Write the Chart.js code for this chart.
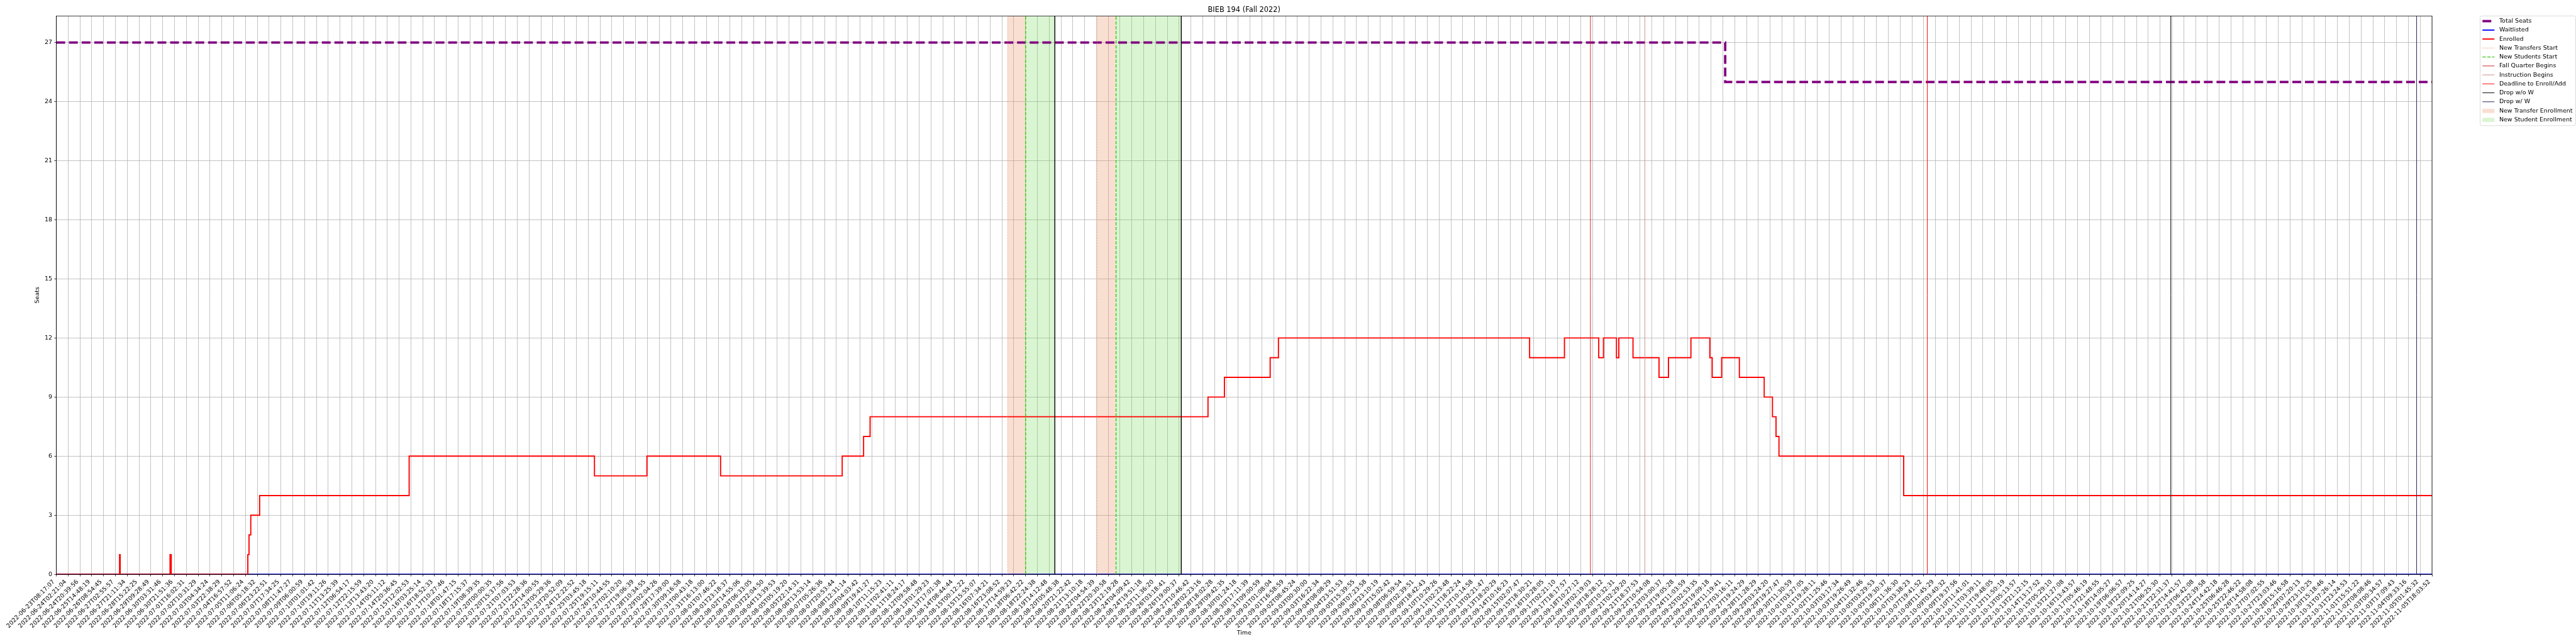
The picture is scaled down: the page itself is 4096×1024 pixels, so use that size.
<!DOCTYPE html>
<html><head><meta charset="utf-8">
<script src="https://cdn.jsdelivr.net/npm/chart.js"></script>
<style>html,body{margin:0;padding:0;background:#fff;overflow:hidden}canvas{display:block}</style>
</head><body>
<canvas id="c" width="4096" height="1024"></canvas>
<script>
// ---------- DATA ----------
const titleText = 'BIEB 194 (Fall 2022)';
const xTitle = 'Time';
const yTitle = 'Seats';
const tickLabels = [
'2022-06-23T08:17:07','2022-06-24T02:21:04','2022-06-24T20:39:56','2022-06-25T14:48:19','2022-06-26T08:54:45',
'2022-06-27T02:55:57','2022-06-27T21:11:34','2022-06-28T15:22:25','2022-06-29T09:28:49','2022-06-30T03:31:46',
'2022-06-30T21:51:36','2022-07-01T16:02:31','2022-07-02T10:31:29','2022-07-03T04:34:24','2022-07-03T22:38:29',
'2022-07-04T16:57:52','2022-07-05T11:06:24','2022-07-06T05:18:32','2022-07-06T23:22:51','2022-07-07T17:34:25',
'2022-07-08T11:47:27','2022-07-09T06:00:59','2022-07-10T01:01:42','2022-07-10T19:11:26','2022-07-11T13:25:39',
'2022-07-12T06:54:17','2022-07-12T22:15:59','2022-07-13T13:43:20','2022-07-14T05:11:12','2022-07-14T20:36:45',
'2022-07-15T12:02:53','2022-07-16T03:25:14','2022-07-16T18:52:33','2022-07-17T10:27:46','2022-07-18T01:47:15',
'2022-07-18T17:15:37','2022-07-19T08:39:35','2022-07-20T00:00:35','2022-07-20T15:37:56','2022-07-21T07:03:53',
'2022-07-21T22:28:36','2022-07-22T14:00:55','2022-07-23T05:29:36','2022-07-23T20:52:09','2022-07-24T12:22:52',
'2022-07-25T03:45:18','2022-07-25T19:15:11','2022-07-26T10:44:55','2022-07-27T02:10:20','2022-07-27T19:06:39',
'2022-07-28T10:34:55','2022-07-29T02:04:26','2022-07-29T17:39:00','2022-07-30T09:16:58','2022-07-31T00:43:18',
'2022-07-31T16:13:00','2022-08-01T07:46:22','2022-08-01T23:18:37','2022-08-02T14:55:06','2022-08-03T06:33:05',
'2022-08-03T22:04:50','2022-08-04T13:39:53','2022-08-05T05:19:20','2022-08-05T22:14:31','2022-08-06T13:53:14',
'2022-08-07T05:26:36','2022-08-07T20:53:44','2022-08-08T12:31:14','2022-08-09T04:03:42','2022-08-09T19:41:27',
'2022-08-10T11:15:23','2022-08-11T02:41:11','2022-08-11T18:24:17','2022-08-12T09:58:48','2022-08-13T01:29:23',
'2022-08-13T17:01:38','2022-08-14T08:44:44','2022-08-15T00:12:22','2022-08-15T15:55:07','2022-08-16T07:34:21',
'2022-08-16T23:08:52','2022-08-17T14:59:23','2022-08-18T06:42:22','2022-08-18T22:24:38','2022-08-19T14:12:48',
'2022-08-20T05:48:38','2022-08-20T21:22:42','2022-08-21T13:10:18','2022-08-22T04:54:39','2022-08-22T20:30:58',
'2022-08-23T12:19:28','2022-08-24T04:09:42','2022-08-24T19:51:18','2022-08-25T11:36:20','2022-08-26T03:18:41',
'2022-08-26T19:00:37','2022-08-27T10:46:42','2022-08-28T02:23:16','2022-08-28T18:02:28','2022-08-29T09:42:35',
'2022-08-30T01:24:18','2022-08-30T17:11:39','2022-08-31T09:00:59','2022-09-01T01:08:04','2022-09-01T16:58:59',
'2022-09-02T08:45:24','2022-09-03T00:30:00','2022-09-03T16:22:34','2022-09-04T08:08:29','2022-09-04T23:51:53',
'2022-09-05T15:39:55','2022-09-06T07:23:58','2022-09-06T23:10:19','2022-09-07T15:02:42','2022-09-08T06:59:54',
'2022-09-09T02:39:51','2022-09-09T18:42:43','2022-09-10T10:29:26','2022-09-11T02:23:48','2022-09-11T18:22:24',
'2022-09-12T10:14:58','2022-09-13T02:21:47','2022-09-13T18:20:29','2022-09-14T10:16:23','2022-09-15T02:07:47',
'2022-09-15T18:30:21','2022-09-16T10:28:05','2022-09-17T02:21:10','2022-09-17T18:17:57','2022-09-18T10:27:12',
'2022-09-19T02:19:03','2022-09-19T18:28:12','2022-09-20T10:32:31','2022-09-21T02:29:20','2022-09-21T18:37:53',
'2022-09-22T10:54:08','2022-09-23T03:00:37','2022-09-23T19:05:28','2022-09-24T11:03:59','2022-09-25T02:53:35',
'2022-09-25T19:09:18','2022-09-26T11:19:41','2022-09-27T03:16:11','2022-09-27T19:24:29','2022-09-28T11:28:29',
'2022-09-29T03:24:20','2022-09-29T19:27:47','2022-09-30T11:30:59','2022-10-01T03:27:05','2022-10-01T19:28:11',
'2022-10-02T11:25:46','2022-10-03T03:17:34','2022-10-03T19:26:49','2022-10-04T11:32:46','2022-10-05T03:29:53',
'2022-10-05T19:30:37','2022-10-06T11:36:30','2022-10-07T03:38:23','2022-10-07T19:41:52','2022-10-08T11:45:29',
'2022-10-09T03:40:32','2022-10-09T19:37:56','2022-10-10T11:41:01','2022-10-11T03:39:11','2022-10-11T19:48:05',
'2022-10-12T11:50:19','2022-10-13T05:13:57','2022-10-13T21:12:15','2022-10-14T13:17:52','2022-10-15T05:29:10',
'2022-10-15T21:27:08','2022-10-16T13:43:57','2022-10-17T05:46:19','2022-10-17T21:48:55','2022-10-18T14:05:27',
'2022-10-19T06:06:57','2022-10-19T22:09:25','2022-10-20T14:14:27','2022-10-21T06:25:30','2022-10-21T22:31:37',
'2022-10-22T14:41:57','2022-10-23T06:42:08','2022-10-23T22:39:58','2022-10-24T14:42:18','2022-10-25T06:46:28',
'2022-10-25T22:46:22','2022-10-26T14:58:08','2022-10-27T07:02:55','2022-10-27T23:03:46','2022-10-28T15:16:58',
'2022-10-29T07:20:13','2022-10-29T23:10:25','2022-10-30T15:18:46','2022-10-31T07:26:14','2022-10-31T23:24:53',
'2022-11-01T15:51:22','2022-11-02T08:08:46','2022-11-03T00:34:57','2022-11-03T17:09:43','2022-11-04T09:33:16',
'2022-11-05T01:45:32','2022-11-05T18:03:52'
];
const yTicks = [0, 3, 6, 9, 12, 15, 18, 21, 24, 27];
const yMax = 28.35;

// step series: x in tick-index units, value holds from x until the next x
const seatsX = [0, 141.2, 201];
const seatsY = [27, 25, 25];
const waitX = [0, 201];
const waitY = [0, 0];
const enrolledX = [0, 5.35, 5.40, 9.62, 9.72, 16.2, 16.3, 16.45, 17.2, 29.85, 45.53, 49.97, 56.2, 66.49, 68.3, 68.85,
  97.44, 98.83, 102.7, 103.4, 124.65, 127.6, 130.5, 130.9, 132.0, 132.2, 133.4, 135.6, 136.4, 138.3, 139.9, 140.1,
  140.9, 142.4, 144.5, 145.2, 145.5, 145.75, 156.3, 201];
const enrolledY = [0, 1, 0, 1, 0, 1, 2, 3, 4, 6, 5, 6, 5, 6, 7, 8,
  9, 10, 11, 12, 11, 12, 11, 12, 11, 12, 11, 10, 11, 12, 11, 10,
  11, 10, 9, 8, 7, 6, 4, 4];

// event markers (tick-index units)
const transfersStartX = [80.49, 88.07];
const studentsStartX = [82.01, 89.66];
const windowEndX = [84.48, 95.18];
const fallBeginsX = [129.8];
const instructionBeginsX = [134.4];
const enrollDeadlineX = [158.3];
const dropNoWX = [178.9];
const dropWX = [199.7];
const transferWindows = [[80.49, 82.01], [88.07, 89.66]];
const studentWindows = [[82.01, 84.48], [89.66, 95.18]];

// ---------- BUILD ----------
const FONT = '"DejaVu Sans", "Liberation Sans", sans-serif';
const stepPts = (xs, ys) => xs.map((x, i) => ({x, y: ys[i]}));
const vlinePts = xs => xs.flatMap((x, i) => (i ? [{x, y: null}] : []).concat([{x, y: 0}, {x, y: yMax}]));
const spanPts = ([a, b]) => [{x: a, y: yMax}, {x: b, y: yMax}];

const datasets = [];
function vline(label, xs, color, width, dash, rank) {
  datasets.push({label, data: vlinePts(xs), borderColor: color, borderWidth: width, borderDash: dash,
    order: 10, legendRank: rank, spanGaps: false});
}
datasets.push({label: 'Total Seats', data: stepPts(seatsX, seatsY), stepped: 'before', borderColor: 'purple',
  borderWidth: 3.8, borderDash: [14.0, 6.1], order: 40, legendRank: 0});
datasets.push({label: 'Waitlisted', data: stepPts(waitX, waitY), stepped: 'before', borderColor: 'blue',
  borderWidth: 1.9, order: 30, legendRank: 1});
datasets.push({label: 'Enrolled', data: stepPts(enrolledX, enrolledY), stepped: 'before', borderColor: 'red',
  borderWidth: 1.9, order: 20, legendRank: 2});
vline('New Transfers Start', transfersStartX, '#ee7733', 0.95, [0.95, 1.6], 3);
vline('New Students Start', studentsStartX, '#33cc11', 1.4, [5.3, 2.3], 4);
vline('Fall Quarter Begins', fallBeginsX, '#cc2222', 0.95, [], 5);
vline('Instruction Begins', instructionBeginsX, '#cc8888', 0.95, [], 6);
vline('Deadline to Enroll/Add', enrollDeadlineX, 'red', 0.95, [], 7);
vline('Drop w/o W', dropNoWX, 'black', 0.95, [], 8);
vline('Drop w/ W', dropWX, '#1a1a4a', 0.95, [], 9);
vline('', windowEndX, 'black', 1.4, [], undefined);
transferWindows.forEach((w, i) => datasets.push({label: 'New Transfer Enrollment', data: spanPts(w), borderWidth: 0,
  borderColor: 'rgba(0,0,0,0)', backgroundColor: 'rgba(233,140,95,0.28)', fill: 'origin', order: 50,
  legendRank: i === 0 ? 10 : undefined, legendPatch: true}));
studentWindows.forEach((w, i) => datasets.push({label: 'New Student Enrollment', data: spanPts(w), borderWidth: 0,
  borderColor: 'rgba(0,0,0,0)', backgroundColor: 'rgba(110,215,80,0.26)', fill: 'origin', order: 50,
  legendRank: i === 0 ? 11 : undefined, legendPatch: true}));

const framePlugin = {
  id: 'frame',
  afterDatasetsDraw(chart) {
    const {ctx, chartArea: a} = chart;
    ctx.save();
    ctx.strokeStyle = '#000'; ctx.lineWidth = 0.76;
    ctx.strokeRect(a.left, a.top, a.right - a.left, a.bottom - a.top);
    ctx.restore();
  }
};
const legendPlugin = {
  id: 'mplLegend',
  afterDraw(chart) {
    const ctx = chart.ctx;
    const items = chart.data.datasets.filter(d => d.legendRank !== undefined).sort((a, b) => a.legendRank - b.legendRank);
    const bx = chart.chartArea.right + 76.5, by = chart.chartArea.top, bw = 152, bh = 174.4;
    const pitch = 14.25, hx = bx + 3.8, hl = 19, tx = hx + hl + 7.6;
    ctx.save();
    ctx.beginPath();
    ctx.roundRect(bx, by, bw, bh, 2.8);
    ctx.fillStyle = 'rgba(255,255,255,0.8)'; ctx.fill();
    ctx.lineWidth = 0.7; ctx.strokeStyle = '#cccccc'; ctx.stroke();
    items.forEach((d, i) => {
      const cy = by + 8.2 + i * pitch;
      if (d.legendPatch) {
        ctx.fillStyle = d.backgroundColor;
        ctx.fillRect(hx, cy - 3.0, hl, 6.6);
      } else {
        ctx.beginPath();
        ctx.setLineDash(d.borderDash || []);
        ctx.lineWidth = d.borderWidth; ctx.strokeStyle = d.borderColor;
        ctx.moveTo(hx, cy); ctx.lineTo(hx + hl, cy); ctx.stroke();
        ctx.setLineDash([]);
      }
      ctx.fillStyle = '#000'; ctx.font = '9.5px ' + FONT; ctx.textBaseline = 'middle'; ctx.textAlign = 'left';
      ctx.fillText(d.label, tx, cy);
    });
    ctx.restore();
  }
};

Chart.defaults.font.family = FONT;
Chart.defaults.color = '#000';
new Chart(document.getElementById('c'), {
  type: 'line',
  data: {datasets},
  options: {
    responsive: false, animation: false, devicePixelRatio: 1, events: [],
    layout: {padding: {left: 0, right: 229, top: 0, bottom: 0}, autoPadding: false},
    elements: {point: {radius: 0, hitRadius: 0, hoverRadius: 0}, line: {tension: 0}},
    plugins: {
      legend: {display: false}, tooltip: {enabled: false},
      title: {display: true, text: titleText, fullSize: false, color: '#000',
        font: {family: FONT, size: 11.4, weight: 'normal'}, padding: {top: 9.4, bottom: 2.3}}
    },
    scales: {
      x: {
        type: 'linear', min: 0, max: tickLabels.length - 1, offset: false,
        afterBuildTicks: s => { s.ticks = tickLabels.map((_, i) => ({value: i})); },
        afterFit: s => { s.height = 110.8; },
        ticks: {autoSkip: false, minRotation: 45, maxRotation: 45, padding: 3.3, labelOffset: -4,
          font: {family: FONT, size: 9.5}, color: '#000', callback: v => tickLabels[v]},
        grid: {color: '#b0b0b0', lineWidth: 0.76, tickLength: 3.3, tickColor: '#000', tickWidth: 0.76},
        border: {display: true, color: '#000', width: 0.76},
        title: {display: true, text: xTitle, font: {family: FONT, size: 9.5}, color: '#000', padding: {top: 0, bottom: 11.3}}
      },
      y: {
        type: 'linear', min: 0, max: yMax,
        afterBuildTicks: s => { s.ticks = yTicks.map(v => ({value: v})); },
        afterFit: s => { s.width = 89.6; },
        ticks: {padding: 3.3, font: {family: FONT, size: 9.5}, color: '#000'},
        grid: {color: '#b0b0b0', lineWidth: 0.76, tickLength: 3.3, tickColor: '#000', tickWidth: 0.76},
        border: {display: true, color: '#000', width: 0.76},
        title: {display: true, text: yTitle, font: {family: FONT, size: 9.5}, color: '#000', padding: {top: 54.3, bottom: 0}}
      }
    }
  },
  plugins: [framePlugin, legendPlugin]
});
</script>
</body></html>
